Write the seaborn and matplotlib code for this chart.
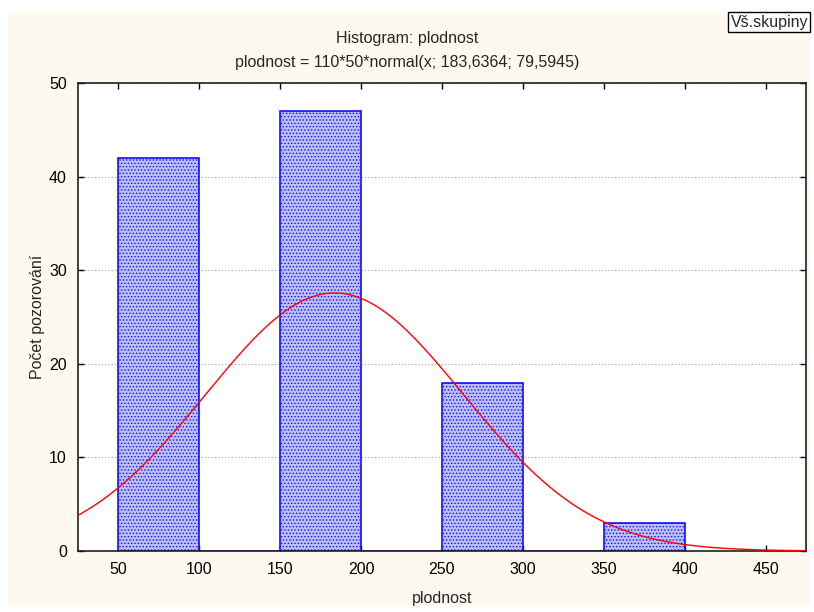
import numpy as np
import matplotlib
matplotlib.use("Agg")
import matplotlib.pyplot as plt
import seaborn as sns

# data
bin_edges = [50, 100, 150, 200, 250, 300, 350, 400]
bin_centers = [75, 125, 175, 225, 275, 325, 375]
counts = [42, 0, 47, 0, 18, 0, 3]
n_obs = 110
bin_width = 50
mean = 183.6364
sd = 79.5945
x_ticks = [50, 100, 150, 200, 250, 300, 350, 400, 450]
y_ticks = [0, 10, 20, 30, 40, 50]

sns.set_style("ticks")
plt.rcParams['font.family'] = ['Liberation Sans', 'DejaVu Sans']
plt.rcParams['hatch.color'] = '#3a3af0'
plt.rcParams['hatch.linewidth'] = 0.6

fig = plt.figure(figsize=(8.14, 6.12), dpi=100, facecolor='white')
# cream panel behind the whole chart
fig.patches.append(plt.Rectangle((8 / 814, 7 / 612), 802 / 814, 593 / 612,
                                 transform=fig.transFigure, facecolor='#fdf9ef',
                                 edgecolor='none', zorder=-5))
ax = fig.add_axes([78 / 814, 1 - 551 / 612, 728 / 814, 468 / 612])
ax.set_zorder(2)
ax.set_facecolor('white')

sns.histplot(x=bin_centers, weights=counts, bins=bin_edges, ax=ax,
             color='#bcc0f6', edgecolor='#1010ff', linewidth=1.2, alpha=1,
             hatch='.....', zorder=2)

xs = np.linspace(20, 480, 400)
pdf = np.exp(-0.5 * ((xs - mean) / sd) ** 2) / (sd * np.sqrt(2 * np.pi))
sns.lineplot(x=xs, y=n_obs * bin_width * pdf, ax=ax, color='red', linewidth=1.0, zorder=3)

ax.set_xlim(25.3, 474.7)
ax.set_ylim(0, 50)
ax.set_xticks(x_ticks)
ax.set_yticks(y_ticks)
ax.tick_params(direction='in', length=4, width=1, labelsize=11.5, top=True, right=True,
               pad=8, colors='black')
ax.yaxis.grid(True, linestyle=(0, (1, 2)), color='#a0a0a0', linewidth=0.8)
ax.set_axisbelow(True)
for s in ax.spines.values():
    s.set_visible(True)
    s.set_linewidth(1.2)
    s.set_color('#202020')

ax.set_xlabel('plodnost', fontsize=11.5, labelpad=10)
ax.set_ylabel('Počet pozorování', fontsize=11.5, labelpad=3)

fig.text(0.5, 1 - 38 / 612, 'Histogram: plodnost', ha='center', va='center', fontsize=11.5)
fig.text(0.5, 1 - 62 / 612, 'plodnost = 110*50*normal(x; 183,6364; 79,5945)',
         ha='center', va='center', fontsize=11.5)
fig.text(1 - 6 / 814, 1 - 22 / 612, 'Vš.skupiny', ha='right', va='center', fontsize=11.5,
         bbox=dict(boxstyle='square,pad=0.15', facecolor='white', edgecolor='black', linewidth=1))

fig.savefig('out.png', dpi=100, facecolor=fig.get_facecolor())
